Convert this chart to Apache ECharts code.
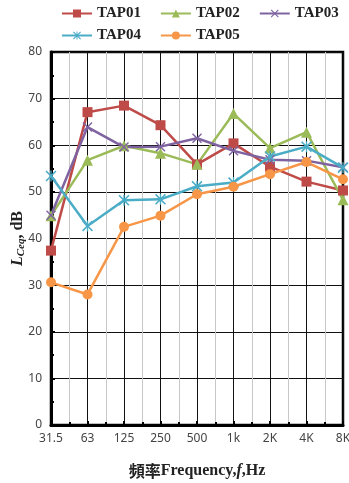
<!DOCTYPE html>
<html>
<head>
<meta charset="utf-8">
<script src="https://cdn.jsdelivr.net/npm/echarts@6/dist/echarts.min.js"></script>
<style>
  html, body { margin: 0; padding: 0; background: #fff; }
  #main { width: 349px; height: 483px; }
</style>
</head>
<body>
<div id="main"></div>
<script>
const categories = ['31.5', '63', '125', '250', '500', '1k', '2K', '4K', '8K'];
const tap01 = [37.4, 67.1, 68.5, 64.3, 55.9, 60.4, 55.4, 52.2, 50.3];
const tap02 = [44.9, 56.8, 59.9, 58.3, 55.9, 66.8, 59.4, 62.8, 48.3];
const tap03 = [45.0, 63.9, 59.6, 59.7, 61.5, 58.8, 56.9, 56.7, 55.3];
const tap04 = [53.4, 42.7, 48.2, 48.4, 51.2, 52.0, 57.6, 59.7, 55.2];
const tap05 = [30.6, 28.0, 42.5, 44.9, 49.5, 51.1, 53.8, 56.4, 52.7];

const crossPath = 'path://M0,1 L1,0 L5,4 L9,0 L10,1 L6,5 L10,9 L9,10 L5,6 L1,10 L0,9 L4,5 Z';
const starPath = 'path://M0,1 L1,0 L5,4 L9,0 L10,1 L6,5 L10,9 L9,10 L5,6 L1,10 L0,9 L4,5 Z M4.4,0 L5.6,0 L5.6,10 L4.4,10 Z';

const toPoints = arr => arr.map((v, i) => [i, v]);

const chartDom = document.getElementById('main');
const myChart = echarts.init(chartDom);

const legendText = {
  fontFamily: 'Liberation Serif',
  fontWeight: 'bold',
  fontSize: 15,
  color: '#222'
};

const makeSeries = (name, data, color, symbol, size) => ({
  name: name,
  type: 'line',
  data: toPoints(data),
  symbol: symbol,
  symbolSize: size,
  lineStyle: { width: 2.5, color: color },
  itemStyle: { color: color },
  z: 3
});

const option = {
  backgroundColor: '#fff',
  animation: false,
  legend: [
    {
      left: 56,
      top: 1,
      itemWidth: 30,
      itemHeight: 10,
      itemGap: 19,
      textStyle: legendText,
      data: ['TAP01', 'TAP02', 'TAP03']
    },
    {
      left: 56,
      top: 23,
      itemWidth: 30,
      itemHeight: 10,
      itemGap: 19,
      textStyle: legendText,
      data: ['TAP04', 'TAP05']
    }
  ],
  grid: {
    left: 51,
    right: 6,
    top: 52,
    bottom: 58,
    outerBoundsMode: 'none',
    show: true,
    borderColor: '#000',
    borderWidth: 2.5
  },
  xAxis: {
    type: 'value',
    min: 0,
    max: 8,
    interval: 1,
    name: '{cn|頻率}{b|Frequency,}{i|f}{b|,Hz}',
    nameLocation: 'middle',
    nameGap: 38,
    nameMoveOverlap: false,
    nameTextStyle: {
      rich: {
        cn: { fontFamily: 'Noto Sans CJK TC', fontWeight: 'bold', fontSize: 16, color: '#222' },
        b: { fontFamily: 'Liberation Serif', fontWeight: 'bold', fontSize: 16, color: '#222' },
        i: { fontFamily: 'Liberation Serif', fontWeight: 'bold', fontStyle: 'italic', fontSize: 16, color: '#222' }
      }
    },
    axisLine: { show: true, lineStyle: { color: '#000', width: 3 } },
    axisTick: { show: true, inside: true, length: 4, lineStyle: { color: '#000', width: 2 } },
    minorTick: { show: true, splitNumber: 2, length: 3, lineStyle: { color: '#000', width: 2 } },
    axisLabel: {
      fontFamily: 'Noto Sans',
      fontSize: 12,
      color: '#444',
      margin: 8,
      formatter: v => categories[v]
    },
    splitLine: { show: true, lineStyle: { color: '#111', width: 1 } },
    minorSplitLine: { show: true, lineStyle: { color: '#c8c8c8', width: 1 } }
  },
  yAxis: {
    type: 'value',
    min: 0,
    max: 80,
    interval: 10,
    name: '{i|L}{s|Ceq}{b|, dB}',
    nameLocation: 'middle',
    nameRotate: 90,
    nameGap: 24,
    nameMoveOverlap: false,
    nameTextStyle: {
      rich: {
        i: { fontFamily: 'Liberation Serif', fontWeight: 'bold', fontStyle: 'italic', fontSize: 16, color: '#222' },
        s: { fontFamily: 'Liberation Serif', fontWeight: 'bold', fontStyle: 'italic', fontSize: 11, color: '#222', verticalAlign: 'bottom', padding: [8, 0, 0, 0] },
        b: { fontFamily: 'Liberation Serif', fontWeight: 'bold', fontSize: 16, color: '#222' }
      }
    },
    axisLine: { show: true, lineStyle: { color: '#000', width: 3 } },
    axisTick: { show: true, inside: true, length: 4, lineStyle: { color: '#000', width: 2 } },
    minorTick: { show: true, splitNumber: 2, length: 3, lineStyle: { color: '#000', width: 2 } },
    axisLabel: {
      fontFamily: 'Noto Sans',
      fontSize: 12,
      color: '#444',
      margin: 9
    },
    splitLine: { show: true, lineStyle: { color: '#111', width: 1 } }
  },
  series: [
    makeSeries('TAP01', tap01, '#BE4B48', 'rect', 10),
    makeSeries('TAP02', tap02, '#9BBB59', 'triangle', 11),
    makeSeries('TAP03', tap03, '#7F63A1', crossPath, 10),
    makeSeries('TAP04', tap04, '#4BACC6', starPath, 11),
    makeSeries('TAP05', tap05, '#F79646', 'circle', 10)
  ]
};

option && myChart.setOption(option);
</script>
</body>
</html>
